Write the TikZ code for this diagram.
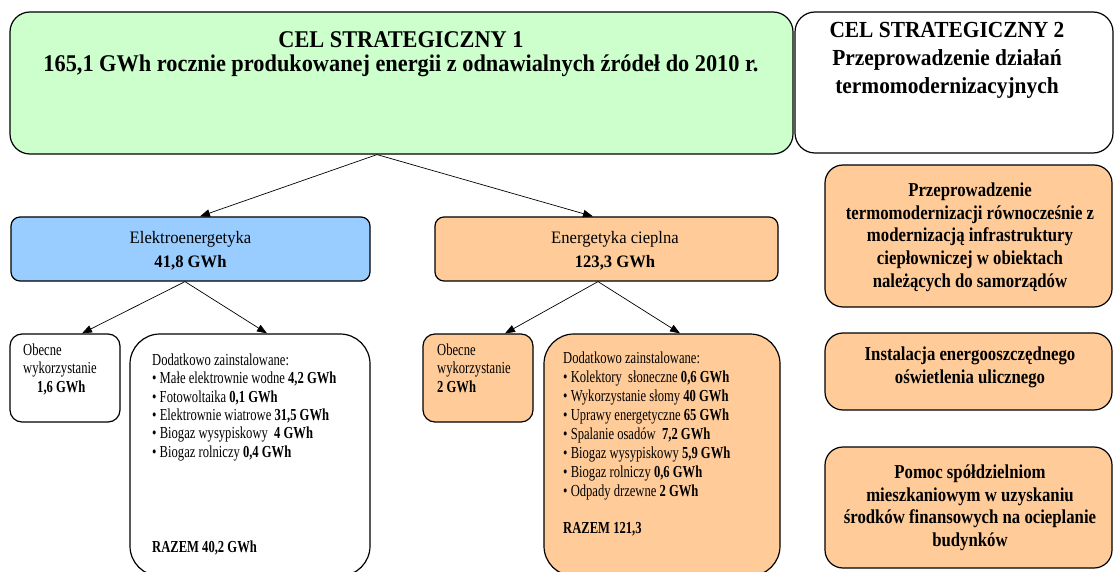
\documentclass[tikz,border=0pt]{standalone}
\usepackage{fontspec}
\setmainfont{Liberation Serif}
\newfontfamily\titlefont{Liberation Serif}[FakeStretch=0.93]
\newfontfamily\headfont{Liberation Serif}[FakeStretch=0.95]
\newfontfamily\listfont{Liberation Serif}[FakeStretch=0.75]
\newfontfamily\sidefont{Liberation Serif}[FakeStretch=0.85]
\usetikzlibrary{positioning, calc, arrows.meta}
\definecolor{celgreen}{HTML}{CCFFCC}
\definecolor{elblue}{HTML}{99CCFF}
\definecolor{cporange}{HTML}{FFCC99}
\tikzset{
	boxnode/.style={
			shape=rectangle,
			draw=black,
			line width=1.2pt,
			inner sep=0pt
		},
	goalnode/.style={
			boxnode,
			rounded corners=20pt
		},
	sectornode/.style={
			boxnode,
			rounded corners=9pt
		},
	smallnode/.style={
			boxnode,
			rounded corners=12pt
		},
	listnode/.style={
			boxnode,
			rounded corners=30pt
		},
	actionnode/.style={
			boxnode,
			fill=cporange,
			rounded corners=18pt
		},
	textnode/.style={
			inner sep=0pt,
			text=black
		}
}
\tikzset{
	titletext/.style={textnode, align=center, font=\titlefont\bfseries\fontsize{24}{24}\selectfont},
	headtext/.style={textnode, align=center, font=\headfont\fontsize{17.5}{24}\selectfont},
	listtext/.style={textnode, align=left, font=\listfont\fontsize{16.8}{18.5}\selectfont},
	sidetext/.style={textnode, align=center, font=\sidefont\bfseries\fontsize{19.7}{22.7}\selectfont},
	arr/.style={-{Triangle[length=10pt,width=7.5pt]}, line width=0.7pt}
}

\begin{document}
\begin{tikzpicture}[x=1pt, y=-1pt]
  \useasboundingbox (0,0) rectangle (1114,572);
  \clip (0,0) rectangle (1114,572);

  % strategic goals
  \node[goalnode, fill=celgreen, minimum width=783pt, minimum height=142pt] (cel1) at (401.5,83) {};
  \node[goalnode, fill=white, minimum width=318pt, minimum height=141pt] (cel2) at (954,82.5) {};
  \node[titletext, anchor=north] (t1) at (401,31.8) {CEL STRATEGICZNY 1\\165,1 GWh rocznie produkowanej energii z odnawialnych źródeł do 2010 r.};
  \node[titletext, anchor=north, font=\titlefont\bfseries\fontsize{23}{28}\selectfont] (t2) at (947,22) {CEL STRATEGICZNY 2\\Przeprowadzenie działań\\termomodernizacyjnych};

  % sectors
  \node[sectornode, fill=elblue, minimum width=359pt, minimum height=64pt] (elek) at (190.5,249) {};
  \node[sectornode, fill=cporange, minimum width=343pt, minimum height=64pt] (ener) at (606.5,249) {};
  \node[headtext, anchor=north] (te) at (190.5,231) {Elektroenergetyka\\\textbf{41,8 GWh}};
  \node[headtext, anchor=north] (tc) at (615,231) {Energetyka cieplna\\\textbf{123,3 GWh}};

  % sources
  \node[smallnode, fill=white, minimum width=110pt, minimum height=88pt] (obe1) at (65,378) {};
  \node[listnode, fill=white, minimum width=240pt, minimum height=242pt] (dod1) at (250,455) {};
  \node[smallnode, fill=cporange, minimum width=110pt, minimum height=88pt] (obe2) at (478,378) {};
  \node[listnode, fill=cporange, minimum width=236pt, minimum height=242pt] (dod2) at (662,455) {};

  \node[listtext, anchor=north west] (to1) at (23,343.5) {Obecne\\wykorzystanie\\\hspace{14pt}\textbf{1,6 GWh}};
  \node[listtext, anchor=north west] (to2) at (437,343.5) {Obecne\\wykorzystanie\\\textbf{2 GWh}};
  \node[listtext, anchor=north west, font=\listfont\fontsize{16.8}{18.4}\selectfont] (td1) at (152,353.5) {Dodatkowo zainstalowane:\\
    • Małe elektrownie wodne \textbf{4,2 GWh}\\
    • Fotowoltaika \textbf{0,1 GWh}\\
    • Elektrownie wiatrowe \textbf{31,5 GWh}\\
    • Biogaz wysypiskowy\ \ \textbf{4 GWh}\\
    • Biogaz rolniczy \textbf{0,4 GWh}};
  \node[listtext, anchor=north west] (ts1) at (152,541) {\textbf{RAZEM 40,2 GWh}};
  \node[listtext, anchor=north west, font=\listfont\fontsize{16.8}{19}\selectfont] (td2) at (563,351.5) {Dodatkowo zainstalowane:\\
    • Kolektory\ \ słoneczne \textbf{0,6 GWh}\\
    • Wykorzystanie słomy \textbf{40 GWh}\\
    • Uprawy energetyczne \textbf{65 GWh}\\
    • Spalanie osadów\ \ \textbf{7,2 GWh}\\
    • Biogaz wysypiskowy \textbf{5,9 GWh}\\
    • Biogaz rolniczy \textbf{0,6 GWh}\\
    • Odpady drzewne \textbf{2 GWh}};
  \node[listtext, anchor=north west] (ts2) at (563,522) {\textbf{RAZEM 121,3}};

  % goal 2 actions
  \node[actionnode, minimum width=287pt, minimum height=142pt] (act1) at (968.5,236) {};
  \node[actionnode, minimum width=287pt, minimum height=77pt] (act2) at (968.5,371.5) {};
  \node[actionnode, minimum width=287pt, minimum height=121pt] (act3) at (968.5,507.5) {};
  \node[sidetext, anchor=north] (ta1) at (970,182.6) {Przeprowadzenie\\termomodernizacji równocześnie z\\modernizacją infrastruktury\\ciepłowniczej w obiektach\\należących do samorządów};
  \node[sidetext, anchor=north] (ta2) at (970,346.6) {Instalacja energooszczędnego\\oświetlenia ulicznego};
  \node[sidetext, anchor=north] (ta3) at (970,464.6) {Pomoc spółdzielniom\\mieszkaniowym w uzyskaniu\\środków finansowych na ocieplanie\\budynków};

  % connectors
  \draw[arr] ($(cel1.south)+(-24.5,0)$) -- ($(elek.north)+(9.5,0)$);
  \draw[arr] ($(cel1.south)+(-24.5,0)$) -- ($(ener.north)+(-13.5,0)$);
  \draw[arr] ($(elek.south)+(-5.5,0)$) -- ($(obe1.north)+(17,0)$);
  \draw[arr] ($(elek.south)+(-5.5,0)$) -- ($(dod1.north)+(17,0)$);
  \draw[arr] ($(ener.south)+(-8.5,0)$) -- ($(obe2.north)+(27,0)$);
  \draw[arr] ($(ener.south)+(-8.5,0)$) -- ($(dod2.north)+(18,0)$);

\end{tikzpicture}
\end{document}
